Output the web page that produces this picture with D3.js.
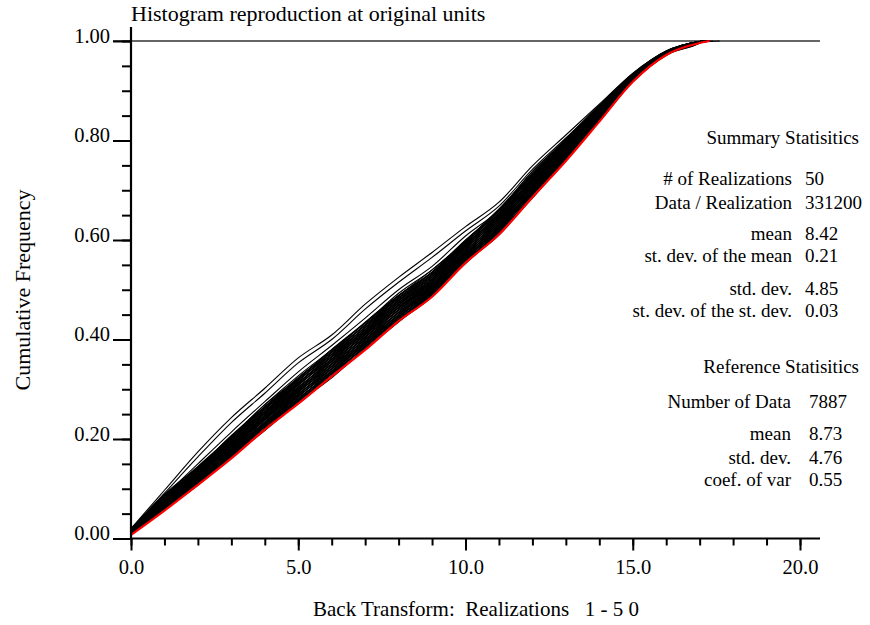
<!DOCTYPE html>
<html><head><meta charset="utf-8">
<script src="https://cdn.jsdelivr.net/npm/d3@7"></script>
<style>
body{margin:0;background:#fff}
svg{display:block;font-family:"Liberation Serif","Times New Roman",serif}
svg text{font-family:"Liberation Serif","Times New Roman",serif;fill:#000}
</style>
</head><body>
<svg id="chart" width="870" height="625" font-family="Liberation Serif"></svg>
<script>
// ---------------- data ----------------
const chartTitle = "Histogram reproduction at original units";
const xAxisTitle = "Back Transform:  Realizations   1 - 5 0";
const yAxisTitle = "Cumulative Frequency";

// value grid shared by every cumulative curve
const xGrid = [0,1,2,3,4,5,6,7,8,9,10,11,12,13,14,15,16,17];

// reference (red) cumulative frequency
const referenceCdf = [.007,.056,.108,.161,.219,.271,.326,.379,.437,.486,.554,.611,.686,.759,.838,.918,.972,.996];
const referenceMax = 17.3;

// 50 realizations' cumulative frequency at xGrid
const realizationCdfs = [
 [.007,.058,.107,.164,.217,.273,.323,.382,.436,.486,.555,.610,.686,.759,.839,.918,.972,.996],
 [.008,.057,.111,.162,.221,.271,.327,.381,.435,.490,.553,.614,.684,.763,.838,.919,.972,.996],
 [.008,.060,.110,.162,.221,.276,.326,.380,.440,.490,.553,.614,.689,.761,.839,.918,.973,.996],
 [.007,.059,.111,.166,.219,.275,.331,.385,.439,.488,.557,.617,.687,.763,.841,.919,.971,.996],
 [.008,.061,.110,.168,.221,.278,.328,.387,.441,.491,.559,.614,.690,.763,.842,.919,.973,.996],
 [.009,.059,.114,.166,.225,.276,.332,.386,.440,.495,.557,.618,.688,.767,.841,.921,.973,.996],
 [.009,.063,.113,.166,.226,.281,.331,.385,.445,.495,.557,.619,.694,.764,.842,.919,.974,.997],
 [.008,.062,.114,.170,.224,.280,.335,.389,.443,.493,.561,.622,.692,.766,.844,.920,.972,.997],
 [.009,.063,.113,.172,.226,.282,.333,.392,.446,.495,.563,.619,.695,.766,.845,.921,.973,.997],
 [.010,.062,.117,.170,.230,.280,.337,.391,.445,.499,.561,.623,.693,.770,.843,.922,.973,.997],
 [.010,.066,.116,.170,.230,.286,.336,.390,.450,.499,.561,.623,.698,.768,.845,.921,.975,.997],
 [.009,.064,.118,.174,.228,.285,.340,.394,.448,.497,.565,.626,.696,.770,.847,.922,.973,.997],
 [.010,.066,.116,.176,.230,.287,.337,.396,.450,.500,.567,.623,.699,.770,.847,.922,.974,.997],
 [.011,.064,.120,.174,.234,.285,.342,.396,.450,.504,.565,.627,.697,.774,.846,.924,.974,.997],
 [.011,.068,.119,.174,.234,.290,.341,.395,.455,.504,.565,.627,.702,.772,.848,.922,.975,.997],
 [.010,.067,.121,.178,.232,.289,.345,.399,.453,.502,.569,.630,.700,.774,.850,.923,.973,.997],
 [.011,.068,.119,.180,.234,.291,.342,.401,.455,.504,.571,.627,.703,.774,.850,.924,.974,.997],
 [.012,.067,.123,.178,.239,.290,.346,.400,.454,.508,.569,.632,.702,.777,.849,.925,.975,.998],
 [.012,.071,.122,.178,.239,.295,.346,.400,.460,.508,.569,.632,.707,.775,.851,.923,.976,.998],
 [.011,.069,.124,.182,.237,.294,.350,.404,.458,.506,.573,.635,.705,.777,.852,.925,.974,.998],
 [.012,.071,.123,.184,.239,.296,.347,.406,.460,.509,.575,.632,.708,.777,.853,.925,.975,.998],
 [.013,.070,.126,.182,.243,.294,.351,.405,.459,.513,.573,.636,.706,.781,.852,.926,.975,.998],
 [.013,.073,.125,.182,.243,.299,.350,.404,.464,.513,.573,.636,.711,.779,.853,.925,.976,.998],
 [.012,.072,.127,.186,.241,.298,.355,.409,.463,.511,.577,.639,.709,.781,.855,.926,.974,.998],
 [.013,.074,.126,.188,.243,.301,.352,.411,.465,.513,.579,.636,.712,.781,.856,.926,.976,.998],
 [.015,.072,.130,.186,.247,.299,.356,.410,.464,.517,.578,.640,.710,.785,.855,.928,.976,.998],
 [.014,.076,.128,.185,.247,.304,.355,.409,.469,.517,.578,.640,.715,.783,.856,.926,.977,.998],
 [.013,.075,.130,.189,.245,.303,.359,.413,.467,.516,.582,.643,.713,.785,.858,.927,.975,.998],
 [.014,.076,.129,.191,.248,.305,.357,.416,.470,.518,.584,.641,.717,.784,.859,.928,.976,.999],
 [.016,.075,.133,.189,.252,.303,.361,.415,.469,.522,.582,.645,.715,.788,.857,.929,.976,.999],
 [.015,.079,.131,.189,.252,.309,.360,.414,.474,.522,.582,.645,.720,.786,.859,.928,.978,.999],
 [.014,.077,.133,.193,.250,.308,.364,.418,.472,.520,.586,.648,.718,.788,.861,.929,.976,.999],
 [.015,.079,.132,.195,.252,.310,.361,.420,.474,.522,.588,.645,.721,.788,.861,.929,.977,.999],
 [.017,.077,.136,.193,.256,.308,.366,.420,.474,.526,.586,.649,.719,.792,.860,.931,.977,.999],
 [.016,.081,.135,.193,.256,.313,.365,.419,.479,.526,.586,.649,.724,.790,.862,.929,.978,.999],
 [.015,.080,.136,.197,.254,.312,.369,.423,.477,.525,.590,.652,.722,.792,.864,.930,.976,.999],
 [.016,.081,.135,.199,.256,.314,.366,.425,.479,.527,.592,.649,.725,.792,.864,.931,.977,.999],
 [.018,.080,.139,.197,.260,.313,.370,.424,.478,.531,.590,.653,.723,.796,.863,.932,.978,.999],
 [.017,.084,.138,.197,.260,.318,.370,.424,.484,.531,.590,.653,.728,.794,.865,.930,.979,.999],
 [.016,.082,.139,.201,.259,.317,.374,.428,.482,.529,.594,.657,.727,.795,.866,.932,.977,.999],
 [.017,.084,.138,.203,.261,.319,.371,.430,.484,.531,.596,.654,.730,.795,.867,.932,.978,.999],
 [.019,.083,.142,.201,.265,.317,.375,.429,.483,.535,.594,.658,.728,.799,.866,.933,.978,.999],
 [.018,.086,.141,.201,.265,.322,.374,.428,.488,.535,.594,.658,.733,.797,.867,.932,.979,.999],
 [.017,.085,.143,.205,.263,.321,.379,.433,.487,.534,.598,.661,.731,.799,.869,.933,.977,.999],
 [.018,.087,.141,.207,.265,.324,.376,.435,.489,.536,.600,.658,.734,.799,.870,.933,.979,.999],
 [.020,.085,.145,.205,.269,.322,.380,.434,.488,.540,.598,.662,.732,.803,.869,.935,.979,.999],
 [.019,.089,.144,.205,.269,.327,.379,.433,.493,.540,.598,.662,.737,.801,.870,.933,.980,.999],
 [.014,.085,.150,.214,.275,.335,.388,.443,.500,.547,.608,.660,.738,.802,.870,.933,.979,.999],
 [.018,.091,.164,.233,.292,.353,.400,.461,.515,.565,.618,.668,.742,.805,.870,.934,.980,.999],
 [.020,.097,.174,.243,.302,.363,.409,.471,.525,.575,.627,.676,.749,.811,.873,.935,.980,.999]
];
// value at which each realization reaches 1.0
const realizationMax = [17.2,17.1,17.3,17.2,17.0,17.1,17.4,17.2,17.1,17.3,17.2,17.1,17.1,17.3,17.2,17.1,17.6,17.2,17.3,17.1,
 17.1,17.2,17.1,17.3,17.2,17.1,17.2,17.1,17.3,17.1,17.2,17.1,17.2,17.1,17.1,17.2,17.1,17.1,17.1,17.1,
 17.1,17.1,17.1,17.1,17.1,17.1,17.1,17.1,17.1,17.1];

const xMajorTicks = [0,5,10,15,20];
const xTickLabels = ["0.0","5.0","10.0","15.0","20.0"];
const xMinorTicks = [0,1,2,3,4,5,6,7,8,9,10,11,12,13,14,15,16,17,18,19,20];
const yMajorTicks = [0,0.2,0.4,0.6,0.8,1.0];
const yTickLabels = ["0.00","0.20","0.40","0.60","0.80","1.00"];
const yMinorTicks = [0,.05,.1,.15,.2,.25,.3,.35,.4,.45,.5,.55,.6,.65,.7,.75,.8,.85,.9,.95,1];

const summaryTitle = "Summary Statisitics";
const summaryLabels = ["# of Realizations","Data / Realization","mean","st. dev. of the mean","std. dev.","st. dev. of the st. dev."];
const summaryValues = ["50","331200","8.42","0.21","4.85","0.03"];
const referenceTitle = "Reference Statisitics";
const referenceLabels = ["Number of Data","mean","std. dev.","coef. of var"];
const referenceValues = ["7887","8.73","4.76","0.55"];

// ---------------- drawing ----------------
const FONT = '"Liberation Serif","Times New Roman",serif';
const svg = d3.select("#chart");
const x = d3.scaleLinear().domain([0,20]).range([131,800]);
const y = d3.scaleLinear().domain([0,1]).range([538.5,41]);

function curvePoints(cdf, maxV){
  const pts = [];
  xGrid.forEach((v,i)=>{ if (v < maxV) pts.push([v, cdf[i]]); });
  pts.push([maxV, 1]);
  return pts;
}
const line = d3.line().x(d=>x(d[0])).y(d=>y(d[1])).curve(d3.curveMonotoneX);

// 1.00 reference line
svg.append("line").attr("x1",113).attr("x2",820).attr("y1",y(1)).attr("y2",y(1))
  .attr("stroke","#333").attr("stroke-width",1.6);

const gReal = svg.append("g");
gReal.selectAll("path").data(realizationCdfs).join("path")
  .attr("d",(d,i)=>line(curvePoints(d, realizationMax[i])))
  .attr("fill","none").attr("stroke","#000").attr("stroke-width",1.1)
  .attr("stroke-linejoin","round");

svg.append("path").attr("d",line(curvePoints(referenceCdf, referenceMax)))
  .attr("fill","none").attr("stroke","#ff0000").attr("stroke-width",2.2)
  .attr("stroke-linejoin","round");

// axes
const axisFont = "20.5px";
const gxMinor = svg.append("g").attr("transform",`translate(0,${y(0)})`)
  .call(d3.axisBottom(x).tickValues(xMinorTicks).tickSize(7).tickFormat(""));
const gxMajor = svg.append("g").attr("transform",`translate(0,${y(0)})`)
  .call(d3.axisBottom(x).tickValues(xMajorTicks).tickSize(12).tickFormat((d,i)=>xTickLabels[i]));
const gyMinor = svg.append("g").attr("transform",`translate(${x(0)},0)`)
  .call(d3.axisLeft(y).tickValues(yMinorTicks).tickSize(9).tickFormat(""));
const gyMajor = svg.append("g").attr("transform",`translate(${x(0)},0)`)
  .call(d3.axisLeft(y).tickValues(yMajorTicks).tickSize(18).tickFormat((d,i)=>yTickLabels[i]));
[gxMinor,gxMajor,gyMinor,gyMajor].forEach(g=>{
  g.attr("font-family",null);
  g.select(".domain").remove();
  g.selectAll(".tick line").attr("stroke","#000").attr("stroke-width",2);
});
gxMajor.selectAll(".tick text").attr("y",35.5).attr("dy",0)
  .style("font-size",axisFont).style("font-family",FONT).attr("fill","#000");
gyMajor.selectAll(".tick text").attr("x",-21).attr("dy",0).attr("y",1)
  .style("font-size",axisFont).style("font-family",FONT).attr("fill","#000");

svg.append("line").attr("x1",x(0)).attr("x2",x(0)).attr("y1",27).attr("y2",y(0)+1)
  .attr("stroke","#000").attr("stroke-width",2.2);
svg.append("line").attr("x1",x(0)-1).attr("x2",820).attr("y1",y(0)).attr("y2",y(0))
  .attr("stroke","#000").attr("stroke-width",2.2);

// titles
svg.append("text").attr("x",131).attr("y",21).style("font-family",FONT).style("font-size","22px").text(chartTitle);
svg.append("text").attr("x",313).attr("y",616).style("font-family",FONT).style("font-size","21px")
  .style("white-space","pre").attr("xml:space","preserve").text(xAxisTitle);
svg.append("text").attr("transform","translate(30,290) rotate(-90)").style("font-family",FONT)
  .attr("text-anchor","middle").style("font-size","22px").text(yAxisTitle);

// statistics
const statFont = "19px";
function stat(xp, yp, anchor, t){
  svg.append("text").attr("x",xp).attr("y",yp).attr("text-anchor",anchor)
    .style("font-family",FONT).style("font-size",statFont).text(t);
}
stat(859,144,"end",summaryTitle);
const sumY = [185,209,240,262,295,317];
summaryLabels.forEach((t,i)=>{
  stat(792,sumY[i],"end",t);
  stat(805,sumY[i],"start",summaryValues[i]);
});
stat(859,373,"end",referenceTitle);
const refY = [408,439.5,463.5,486];
referenceLabels.forEach((t,i)=>{
  stat(791,refY[i],"end",t);
  stat(809,refY[i],"start",referenceValues[i]);
});
</script>
</body></html>
